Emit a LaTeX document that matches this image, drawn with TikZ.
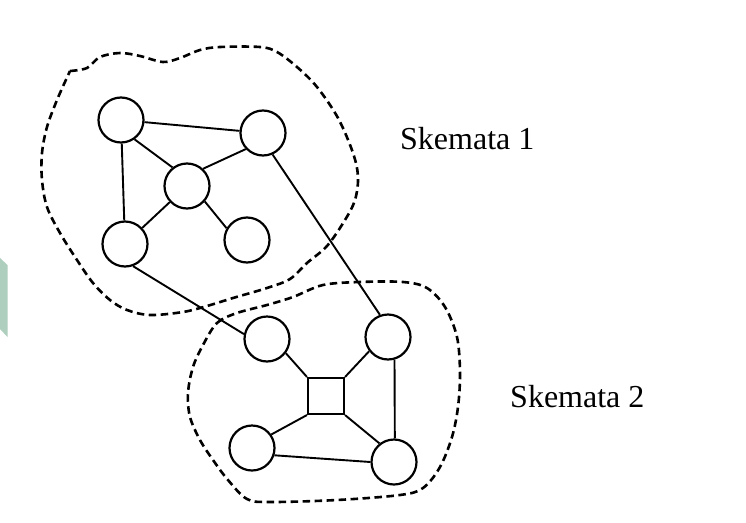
\documentclass[tikz,border=0pt]{standalone}
\usepackage{fontspec}
\setmainfont{Liberation Serif}
\begin{document}
\begin{tikzpicture}[x=1pt,y=-1pt,
  vtx/.style={circle,draw,line width=2.2pt,minimum size=45pt,inner sep=0pt},
  hub/.style={rectangle,draw,line width=2.1pt,minimum size=36pt,inner sep=0pt},
  edge/.style={line width=1.9pt},
  blob/.style={dash pattern=on 7.5pt off 4.5pt,line width=2.6pt,line join=round},
  lbl/.style={anchor=base west,inner sep=0pt,font=\fontsize{32}{38}\selectfont}]
\useasboundingbox (0,0) rectangle (746,522);
\fill[white] (0,0) rectangle (746,522);
\fill[fill={rgb,255:red,175;green,207;blue,190}] (0,258) -- (7.5,265) -- (7.5,337) -- (0,329) -- cycle;

% outlines of the two schemata
\draw[blob] plot[smooth,tension=0.55] coordinates {
  (70,71) (87,68) (100,57) (120,53) (140,56) (163,62) (180,58) (200,50)
  (220,47) (260,47) (277,52) (297,67) (317,87) (338,118) (353,153)
  (358,177) (355,200) (345,220) (327,246) (307,263) (290,279) (267,288)
  (233,298) (207,306) (183,312) (150,315) (127,310) (110,300) (93,283)
  (77,260) (60,233) (47,207) (42,180) (42,153) (47,127) (57,100) (70,71)};
\draw[blob] plot[smooth cycle,tension=0.55] coordinates {
  (203,345) (217,323) (237,313) (267,305) (293,297) (323,285) (360,282)
  (403,282) (427,288) (445,307) (457,337) (460,373) (458,407) (452,437)
  (440,467) (423,488) (400,495) (337,500) (270,502) (247,499) (228,480)
  (213,460) (200,440) (190,417) (188,393) (193,367)};

% schema 1
\node[vtx] (A) at (121,120) {};
\node[vtx] (B) at (263,133) {};
\node[vtx] (C) at (187,186) {};
\node[vtx] (D) at (125,244) {};
\node[vtx] (E) at (247,240) {};
% schema 2
\node[vtx] (F) at (267,339) {};
\node[vtx] (G) at (388,337) {};
\node[hub] (S) at (326,396) {};
\node[vtx] (H) at (252,448) {};
\node[vtx] (I) at (394,462) {};

\draw[edge] (A) -- (B);
\draw[edge] (A.-55) -- (C.128);
\draw[edge] (B.-137) -- (C.47);
\draw[edge] (A) -- (D);
\draw[edge] (D) -- (C);
\draw[edge] (C.-41) -- (E.150);
\draw[edge] (D.-70) -- (F.168);
\draw[edge] (B.-66) -- (G.110);
\draw[edge] (F.-37) -- (S.north west);
\draw[edge] (G.217) -- (S.north east);
\draw[edge] (H.35) -- (S.south west);
\draw[edge] (I.128) -- (S.south east);
\draw[edge] (H.-18) -- (I.180);
\draw[edge] (G.-74) -- (I.88);

\node[lbl] (L1) at (400,149) {Skemata 1};
\node[lbl] (L2) at (510,407) {Skemata 2};
\end{tikzpicture}
\end{document}
